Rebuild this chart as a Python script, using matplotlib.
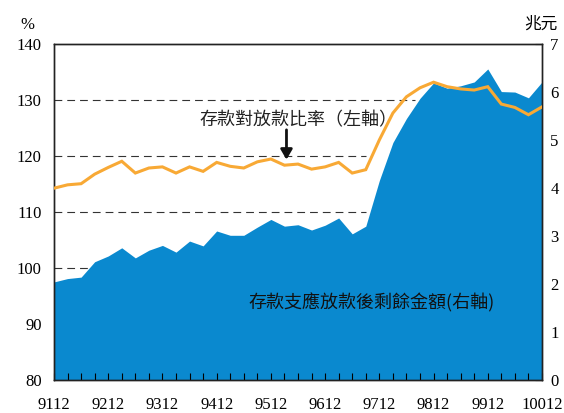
import matplotlib
matplotlib.use("Agg")
import matplotlib.pyplot as plt
import matplotlib.transforms as mtransforms
import numpy as np

# ---- data (quarterly, ROC year-month) ----
tick_labels = ["9112", "9212", "9312", "9412", "9512", "9612", "9712", "9812", "9912", "10012"]
ratio = [114.2, 114.8, 115.0, 116.7, 117.9, 119.0, 116.9, 117.8, 118.0, 116.9,
         118.0, 117.2, 118.8, 118.1, 117.8, 118.9, 119.4, 118.3, 118.5, 117.6,
         118.0, 118.8, 116.9, 117.5, 122.8, 127.6, 130.5, 132.1, 133.1, 132.3,
         131.9, 131.7, 132.3, 129.2, 128.6, 127.3, 128.7]
surplus = [2.04, 2.11, 2.14, 2.46, 2.58, 2.75, 2.54, 2.70, 2.80, 2.66,
           2.89, 2.79, 3.10, 3.01, 3.01, 3.18, 3.34, 3.20, 3.23, 3.12,
           3.22, 3.37, 3.04, 3.20, 4.15, 4.94, 5.44, 5.86, 6.18, 6.07,
           6.12, 6.20, 6.47, 6.00, 5.99, 5.87, 6.20]
left_ticks = [80, 90, 100, 110, 120, 130, 140]
right_ticks = [0, 1, 2, 3, 4, 5, 6, 7]
grid_levels = [100, 110, 120, 130]
grid_ends = [36, 23, 23, 26.6]   # index where each dashed line stops

label_ratio = "存款對放款比率（左軸）"
label_surplus = "存款支應放款後剩餘金額(右軸)"

x = np.arange(len(ratio))

plt.rcParams['font.family'] = ['Liberation Serif', 'Noto Sans CJK TC']
cjk = ['Noto Sans CJK TC', 'DejaVu Sans']

fig = plt.figure(figsize=(5.64, 4.13), dpi=100)
ax = fig.add_axes([54/564, 1-380/413, (542-54)/564, (380-43.5)/413])
ax2 = ax.twinx()
ax.set_zorder(ax2.get_zorder() + 1)
ax.patch.set_visible(False)

blue = '#0a89cf'
orange = '#f8a935'

# gridlines (under the area), y in left-axis units
trans = mtransforms.blended_transform_factory(ax2.transData, ax.transData)
for lvl, xe in zip(grid_levels, grid_ends):
    ax2.plot([0, xe], [lvl, lvl], transform=trans, color='#333333', lw=0.8,
             linestyle=(0, (7, 4.5)), zorder=1)

ax2.fill_between(x, 0, surplus, color=blue, linewidth=0, zorder=2)
ax.plot(x, ratio, color=orange, lw=2.2, zorder=3, solid_joinstyle='miter')

ax.set_xlim(0, len(ratio) - 1)
ax.set_ylim(80, 140)
ax2.set_ylim(0, 7)

ax.set_yticks(left_ticks)
ax2.set_yticks(right_ticks)
ax.set_xticks(x, minor=True)
ax.set_xticks(x[::4])
ax.set_xticklabels(tick_labels)

ax.tick_params(axis='y', length=0, pad=9, labelsize=12)
ax2.tick_params(axis='y', direction='in', length=5, width=0.8, pad=6, labelsize=12)
ax.tick_params(axis='x', which='both', direction='in', length=5, width=0.8, pad=12, labelsize=12)
ax.tick_params(axis='x', which='minor', labelbottom=False)
ax2.tick_params(axis='x', which='both', length=0)

for a in (ax, ax2):
    for s in a.spines.values():
        s.set_linewidth(1.0)
        s.set_color('#222222')

ax.text(-0.055, 1.055, "%", transform=ax.transAxes, ha='center', va='center', fontsize=12)
ax.text(0.997, 1.058, "兆元", transform=ax.transAxes, ha='center', va='center', fontsize=12, family=cjk)

ax.annotate("", xy=(17.15, 118.8), xytext=(17.15, 125.1),
            arrowprops=dict(arrowstyle='-|>,head_width=0.35,head_length=0.6', color='#111111', lw=2))
ax.text(18.05, 126.4, label_ratio, ha='center', va='center', fontsize=13, family=cjk, color='#222222')
ax.text(23.45, 93.7, label_surplus, ha='center', va='center', fontsize=13, family=cjk, color='#111111')

fig.savefig("out.png", dpi=100)
